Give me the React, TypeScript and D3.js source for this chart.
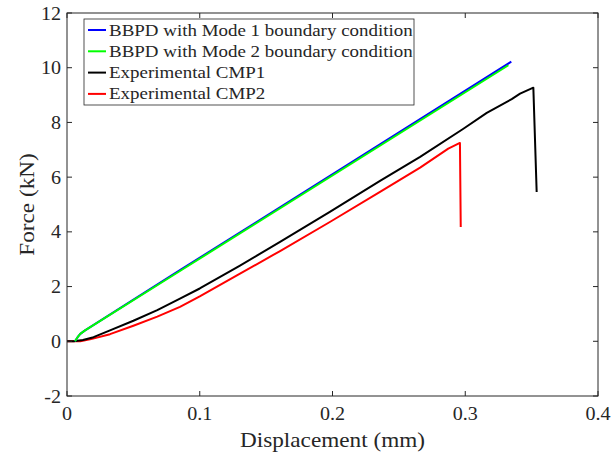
import React from "react";
import * as d3 from "d3";

const bbpdMode1X = [0.006, 0.008, 0.010, 0.0136, 0.0851, 0.3347];
const bbpdMode1Y = [0, 0.15, 0.27, 0.40, 2.60, 10.22];
const bbpdMode2X = [0.006, 0.008, 0.010, 0.0136, 0.0851, 0.3325];
const bbpdMode2Y = [0, 0.15, 0.27, 0.40, 2.57, 10.09];
const cmp1X = [0, 0.005, 0.012, 0.02, 0.0324, 0.05, 0.068, 0.0851, 0.1, 0.13, 0.1605, 0.198, 0.2358, 0.266, 0.2986, 0.3162, 0.335, 0.3413, 0.3513, 0.3538];
const cmp1Y = [0, 0, 0.05, 0.15, 0.40, 0.75, 1.14, 1.56, 1.93, 2.76, 3.63, 4.73, 5.86, 6.74, 7.77, 8.35, 8.85, 9.05, 9.27, 5.46];
const cmp2X = [0, 0.01, 0.0173, 0.0324, 0.05, 0.068, 0.0851, 0.1, 0.13, 0.1605, 0.198, 0.2358, 0.266, 0.2872, 0.296, 0.2966];
const cmp2Y = [0, 0, 0.07, 0.26, 0.57, 0.90, 1.26, 1.64, 2.46, 3.30, 4.36, 5.46, 6.35, 7.04, 7.25, 4.18];

const seriesNames = [
  "BBPD with Mode 1 boundary condition",
  "BBPD with Mode 2 boundary condition",
  "Experimental CMP1",
  "Experimental CMP2",
];
const seriesColors = ["#0000ff", "#00ff00", "#000000", "#ff0000"];
const xTicks = [0, 0.1, 0.2, 0.3, 0.4];
const yTicks = [-2, 0, 2, 4, 6, 8, 10, 12];
const xLabel = "Displacement (mm)";
const yLabel = "Force (kN)";

const W = 612, H = 458;
const L = 67, R = 598, T = 13, B = 396;
const FONT = "'Liberation Serif', serif";
const AX = "#262626";

function SText(props: { x: number; y: number; s: number; size: number; anchor?: string; rot?: number; children: string }) {
  const { x, y, s, size, anchor, rot, children } = props;
  return (
    <g transform={`translate(${x},${y}) rotate(${rot || 0}) scale(${s},1)`}>
      <text x={0} y={0} fontSize={size} textAnchor={anchor || "start"} fill={AX}>
        {children}
      </text>
    </g>
  );
}

export default function App() {
  const x = d3.scaleLinear().domain([0, 0.4]).range([L, R]);
  const y = d3.scaleLinear().domain([-2, 12]).range([B, T]);
  const line = d3.line<[number, number]>().x((d) => x(d[0])).y((d) => y(d[1]));
  const series: [number[], number[]][] = [
    [bbpdMode1X, bbpdMode1Y],
    [bbpdMode2X, bbpdMode2Y],
    [cmp1X, cmp1Y],
    [cmp2X, cmp2Y],
  ];
  const drawOrder = [3, 2, 0, 1];
  const tl = 5;
  const legX = 84, legY = 19, legW = 330, legH = 86;
  return (
    <svg width={W} height={H} style={{ position: "absolute", left: 0, top: 0 }} fontFamily={FONT}>
      <rect x={0} y={0} width={W} height={H} fill="#fff" />
      {drawOrder.map((i) => (
        <path
          key={i}
          d={line(series[i][0].map((v, k) => [v, series[i][1][k]]) as [number, number][]) || ""}
          fill="none"
          stroke={seriesColors[i]}
          strokeWidth={2}
          strokeLinejoin="round"
        />
      ))}
      <rect x={L} y={T} width={R - L} height={B - T} fill="none" stroke={AX} strokeWidth={1} />
      {xTicks.map((t) => (
        <g key={"x" + t}>
          <line x1={x(t)} x2={x(t)} y1={B} y2={B - tl} stroke={AX} />
          <line x1={x(t)} x2={x(t)} y1={T} y2={T + tl} stroke={AX} />
          <SText x={x(t)} y={B + 24} s={1.03} size={19.5} anchor="middle">
            {t === 0 ? "0" : String(t)}
          </SText>
        </g>
      ))}
      {yTicks.map((t) => (
        <g key={"y" + t}>
          <line x1={L} x2={L + tl} y1={y(t)} y2={y(t)} stroke={AX} />
          <line x1={R} x2={R - tl} y1={y(t)} y2={y(t)} stroke={AX} />
          <SText x={L - 6} y={y(t) + 6.5} s={1.03} size={19.5} anchor="end">
            {String(t)}
          </SText>
        </g>
      ))}
      <SText x={(L + R) / 2} y={446.5} s={1.055} size={22} anchor="middle">
        {xLabel}
      </SText>
      <SText x={34} y={(T + B) / 2} s={1.055} size={22} anchor="middle" rot={-90}>
        {yLabel}
      </SText>
      <rect x={legX} y={legY} width={legW} height={legH} fill="#fff" stroke={AX} strokeWidth={0.8} />
      {seriesNames.map((n, i) => (
        <g key={n}>
          <line x1={88} x2={106} y1={30 + i * 21.3} y2={30 + i * 21.3} stroke={seriesColors[i]} strokeWidth={2} />
          <SText x={109} y={30 + i * 21.3 + 5.5} s={1.115} size={17}>
            {n}
          </SText>
        </g>
      ))}
    </svg>
  );
}
